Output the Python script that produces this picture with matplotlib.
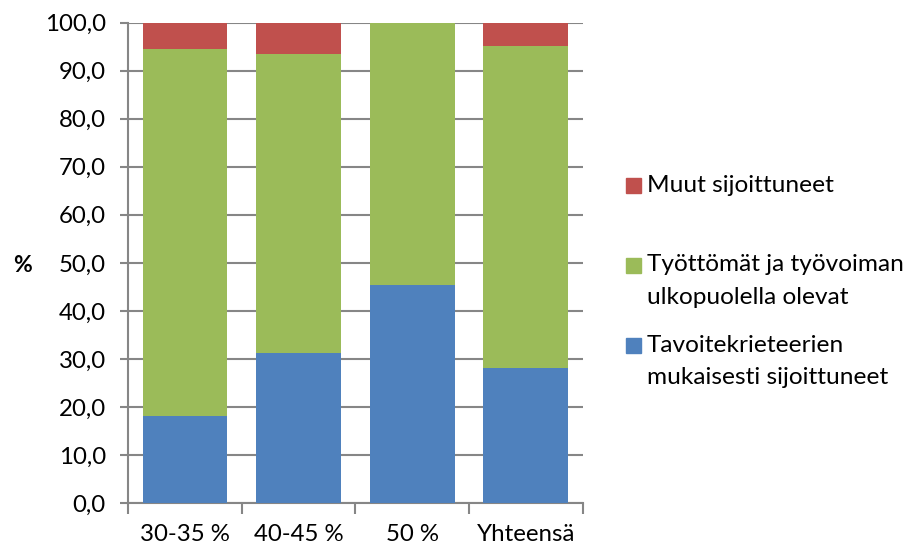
import matplotlib
matplotlib.use("Agg")
import matplotlib.pyplot as plt
from matplotlib.patches import Rectangle
from matplotlib.ticker import FuncFormatter, MultipleLocator, FixedLocator
import numpy as np

categories = ["30-35 %", "40-45 %", "50 %", "Yhteensä"]
tavoite = [18.1, 31.3, 45.4, 28.1]          # Tavoitekrieteerien mukaisesti sijoittuneet
tyottomat = [76.4, 62.2, 54.6, 67.1]        # Työttömät ja työvoiman ulkopuolella olevat
muut = [5.5, 6.5, 0.0, 4.8]                 # Muut sijoittuneet

series_labels = ["Tavoitekrieteerien\nmukaisesti sijoittuneet",
                 "Työttömät ja työvoiman\nulkopuolella olevat",
                 "Muut sijoittuneet"]
colors = ["#4F81BD", "#9BBB59", "#C0504D"]

plt.rcParams["font.family"] = ["Lato", "DejaVu Sans"]
FS_TICK = 17.3
FS_LEG = 17.6
GRID = "#868686"

fig = plt.figure(figsize=(9.08, 5.48), dpi=100)
ax = fig.add_axes([0.141, 0.0821, 0.5007, 0.8765])

x = np.arange(len(categories))
w = 0.745
bottom = np.zeros(len(categories))
for vals, col in zip([tavoite, tyottomat, muut], colors):
    ax.bar(x, vals, w, bottom=bottom, color=col, zorder=3, linewidth=0)
    bottom += np.array(vals)

ax.set_xlim(-0.5, len(categories) - 0.5)
ax.set_ylim(0, 100)
ax.yaxis.set_major_locator(MultipleLocator(10))
ax.yaxis.set_major_formatter(FuncFormatter(lambda v, p: f"{v:.1f}".replace(".", ",")))
ax.grid(axis="y", color=GRID, linewidth=1.5, zorder=0)

# category labels centred under bars, ticks at category boundaries
ax.set_xticks(x)
ax.set_xticklabels(categories, fontsize=FS_TICK)
ax.tick_params(axis="x", which="major", length=0, pad=15)
ax.xaxis.set_minor_locator(FixedLocator(np.arange(-0.5, len(categories), 1.0)))
ax.tick_params(axis="x", which="minor", length=8, width=1.5, color=GRID, direction="out")
ax.tick_params(axis="y", length=6, width=1.5, color=GRID, labelsize=FS_TICK, pad=10)

for s in ["top", "right"]:
    ax.spines[s].set_visible(False)
for s in ["left", "bottom"]:
    ax.spines[s].set_color(GRID)
    ax.spines[s].set_linewidth(1.5)

fig.text(22 / 908, 1 - 266 / 548, "%", fontsize=16.5, fontweight="bold",
         ha="center", va="center")

# legend, top entry first
W, H = 908, 548
legend_rows = [(2, [185]), (1, [265, 298]), (0, [345, 378])]
for idx, ys in legend_rows:
    yc = ys[0]
    fig.patches.append(Rectangle((626 / W, 1 - (yc + 7.5) / H), 15 / W, 15 / H,
                                 transform=fig.transFigure, color=colors[idx]))
    for line, yy in zip(series_labels[idx].split("\n"), ys):
        fig.text(647 / W, 1 - yy / H, line, fontsize=FS_LEG, ha="left", va="center")

fig.savefig("out.png", dpi=100)
